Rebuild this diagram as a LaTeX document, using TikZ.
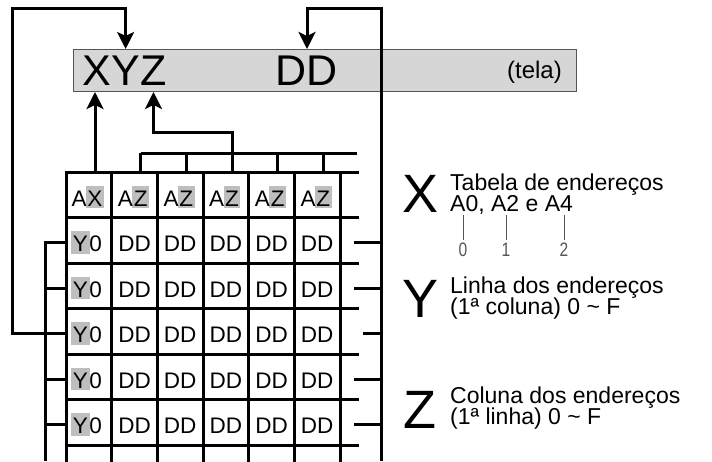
\documentclass[tikz,border=0pt]{standalone}
\usepackage{fontspec}
\setmainfont{Liberation Sans}
\newfontfamily\narrowfont[FakeStretch=0.8]{Liberation Sans}
\usepackage{tikz}
\usetikzlibrary{arrows.meta,positioning,calc}
\definecolor{telagray}{HTML}{D6D6D6}
\definecolor{hlgray}{HTML}{BEBEBE}
\definecolor{rimgray}{HTML}{555555}
\newcommand{\twolines}[2]{\begin{tabular}[t]{@{}l@{}}#1\\[-1.5pt]#2\end{tabular}}

\begin{document}
\begin{tikzpicture}[
    x=1pt, y=-1pt,
    wire/.style={line width=3pt},
    arr/.style={wire, -{Stealth[length=17pt,width=17pt,inset=4pt]}},
    cell/.style={font=\fontsize{22.5}{24}\selectfont, inner sep=0pt, anchor=base},
    hl/.style={cell, fill=hlgray, inner xsep=1.5pt, inner ysep=2pt, text height=18.5pt, text depth=0pt},
    big/.style={font=\fontsize{43}{48}\selectfont, inner sep=0pt, anchor=base west},
    key/.style={font=\fontsize{54}{60}\selectfont, inner sep=0pt, anchor=base west},
    lf/.style={font=\fontsize{23}{22}\selectfont, inner sep=0pt, anchor=base west},
    tick/.style={line width=1pt, rimgray},
    dim/.style={font=\narrowfont\fontsize{19.5}{20}\selectfont, text=rimgray, inner sep=0pt, anchor=north}
  ]
    \useasboundingbox (0,0) rectangle (712,461);
    % screen
    \node[draw=rimgray, fill=telagray, line width=1pt, minimum width=503pt,
          minimum height=42pt, inner sep=0pt, anchor=north west] (tela) at (73,49) {};
    \node[big] (bX) at (82,85) {X};
    \node[big] (bY) at (bX.base east) {Y};
    \node[big] (bZ) at (bY.base east) {Z};
    \node[big, anchor=base] (bD) at (307,85) {DD};
    \node[lf, anchor=base east, font=\fontsize{24}{24}\selectfont] (lbl) at (562,78) {(tela)};

    \coordinate (gtop) at (66,172);
    \coordinate (bus) at (357,153);
    \coordinate (cTL) at (12,8);
    \coordinate (cTR) at (381,8);
    \coordinate (lb) at (45,461);
    \coordinate (rb) at (381,461);

    % table
    \foreach \r in {0,...,6}
      \draw[wire, line cap=rect] (66,{172+45.5*\r}) -- (357,{172+45.5*\r});
    \foreach \c in {0,...,6}
      \draw[wire, line cap=rect] ({66+45.67*\c},172) -- ({66+45.67*\c},461);

    \foreach \c/\t in {0/X,1/Z,2/Z,3/Z,4/Z,5/Z} {
      \node[hl] (h\c) at ({95+45.67*\c},206.25) {\t};
      \node[cell, anchor=base east] (a\c) at ([xshift=1pt]h\c.base west) {A};
    }
    \foreach \r in {1,...,5} {
      \node[hl] (y\r) at (80.5,{183.5+45.5*(\r+0.5)}) {Y};
      \node[cell, anchor=base west] (n\r) at ([xshift=-0.5pt]y\r.base east) {0};
      \foreach \c in {1,...,5}
        \node[cell] (d\r\c) at ({66+45.67*(\c+0.5)},{183.5+45.5*(\r+0.5)}) {DD};
    }

    % Z bus
    \draw[wire] (h1 |- bus) -- (bus);
    \foreach \c in {1,...,5}
      \draw[wire] (h\c |- bus) -- (h\c |- gtop);
    \draw[arr] (h3 |- bus) -- ++(0,-21) -| (bZ |- tela.south);

    % X
    \draw[arr] (h0 |- gtop) -- (h0 |- tela.south);

    % Y bus
    \draw[wire] (y1 -| gtop) -| (lb);
    \foreach \r in {2,4,5}
      \draw[wire] (y\r -| lb) -- (y\r -| gtop);
    \draw[arr] (y3 -| gtop) -| (cTL) -| (bY |- tela.north);

    % data bus
    \draw[arr] (rb) -- (cTR) -| (bD |- tela.north);
    \foreach \r in {1,2,4,5}
      \draw[wire] (y\r -| rb) -- ++(-27,0);
    \draw[wire] (y3 -| rb) -- ++(-18,0);

    % legend
    \node[key] (kX) at (402,212) {X};
    \node[lf] (kXt) at (450,190) {\twolines{Tabela de endereços}{A0, A2 e A4}};
    \foreach \x/\d in {463/0,506/1,564/2} {
      \node[dim] (t\d) at (\x,243) {\d};
      \draw[tick] ([yshift=3pt]t\d.north) -- ++(0,-25);
    }
    \node[key] (kY) at (402,317) {Y};
    \node[lf] (kYt) at (450,293) {\twolines{Linha dos endereços}{(1ª coluna) 0 \textasciitilde{} F}};
    \node[key] (kZ) at (403,428) {Z};
    \node[lf] (kZt) at (450,403) {\twolines{Coluna dos endereços}{(1ª linha) 0 \textasciitilde{} F}};
\end{tikzpicture}
\end{document}
